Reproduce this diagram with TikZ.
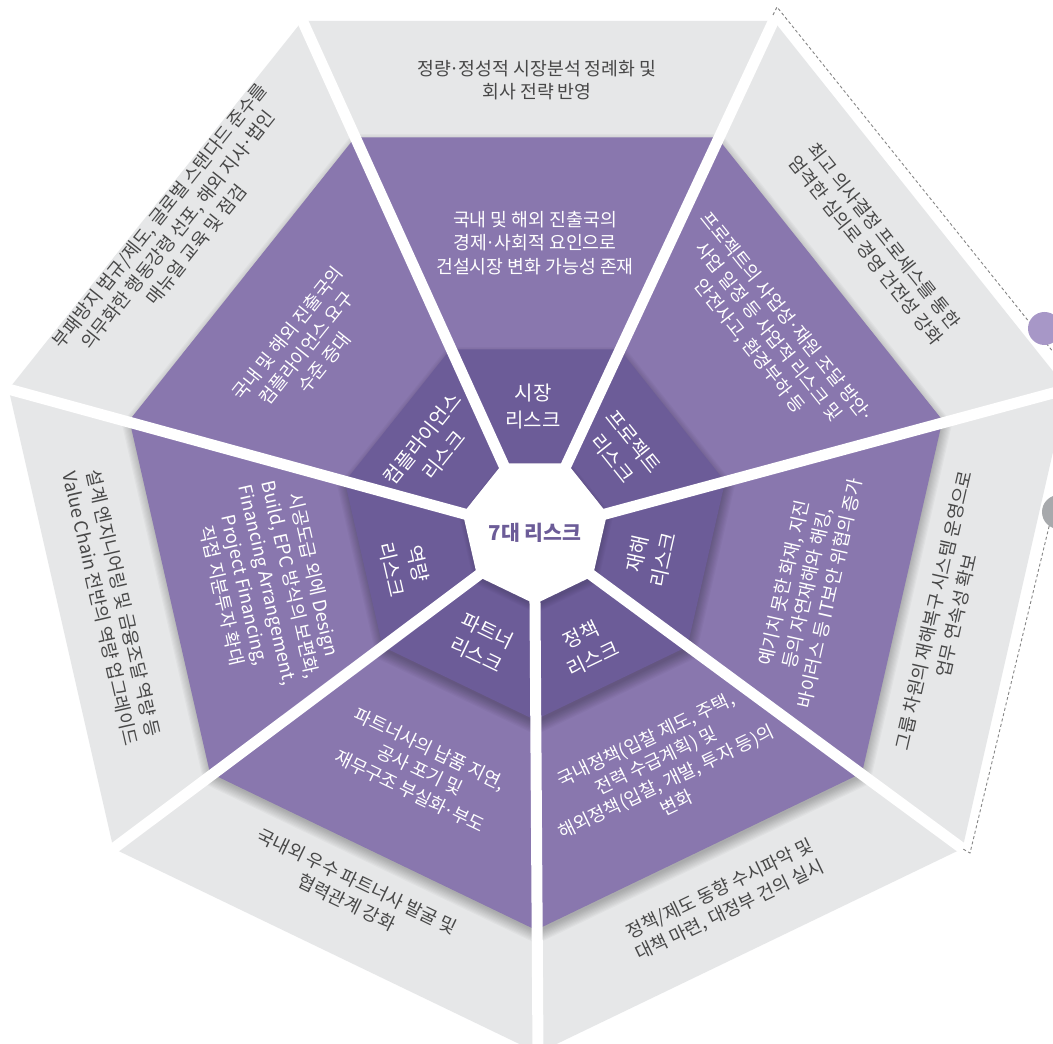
\documentclass[tikz,border=0pt]{standalone}
\usepackage{fontspec}
\setmainfont{Noto Sans CJK KR}
\usetikzlibrary{calc}
\definecolor{grayfill}{HTML}{E6E7E8}
\definecolor{midpurple}{HTML}{8977AE}
\definecolor{darkpurple}{HTML}{6C5C98}
\definecolor{graytext}{HTML}{484848}
\definecolor{lightpurple}{HTML}{A797C7}
\definecolor{circlegray}{HTML}{A7A9AC}
\definecolor{dashgray}{HTML}{858585}
\newcommand\heptpath[3]{([shift={(#1,#2)}]{64.2857}:{#3}) \foreach \k in {0,...,5}{ -- ++({180+51.4286*\k}:{0.867767*(#3)}) } -- cycle}
\newcommand\md{\kern-0.07em·\kern-0.07em}
\tikzset{
  outertext/.style={text=graytext, align=center, font=\fontsize{18.3}{23.5}\selectfont, inner sep=0pt},
  midtext/.style={text=white, align=center, font=\fontsize{18.3}{23.5}\selectfont, inner sep=0pt},
  risktext/.style={text=white, align=center, font=\fontsize{20}{27}\selectfont, inner sep=0pt},
  centertext/.style={text=darkpurple, font=\fontsize{20.5}{24}\selectfont\bfseries, inner sep=0pt},
  spoke/.style={draw=white, line width=11pt},
  dashline/.style={draw=dashgray, line width=0.9pt, dash pattern=on 3pt off 2.5pt},
  dot/.style={circle, inner sep=0pt, draw=none},
}
\begin{document}
\begin{tikzpicture}[x=1pt,y=1pt]
\useasboundingbox (0,0) rectangle (1053,1044);
\fill[white] (0,0) rectangle (1053,1044);
% outer gray heptagon
\fill[grayfill] \heptpath{538}{534}{543};
% shadow under middle ring
\foreach \i in {1,...,10}{\fill[black,opacity=0.028] \heptpath{537}{526}{413+1.3*\i};}
\fill[midpurple] \heptpath{536}{531}{417};
% shadow under inner ring
\foreach \i in {1,...,10}{\fill[black,opacity=0.026] \heptpath{536}{513}{191+1.3*\i};}
\fill[darkpurple] \heptpath{535}{519}{195};
% shadow under centre
\foreach \i in {1,...,6}{\fill[black,opacity=0.025] \heptpath{536}{510}{72+1.2*\i};}
% spokes
\foreach \k in {0,...,6}{
  \coordinate (o\k) at ([shift={(538,534)}]{64.2857+51.4286*\k}:543);
  \coordinate (w\k) at ([shift={(535,514)}]{64.2857+51.4286*\k}:74);
}
\foreach \k in {0,...,6}{
  \draw[spoke] ($(o\k)!1.05!(w\k)$) -- ($(w\k)!1.08!(o\k)$);
}
\fill[white] \heptpath{535}{514}{74};
% centre
\node[centertext] (c0) at (535,511) {7대 리스크};
% risk names
\node[risktext] (r1) at (533,637) {시장\\리스크};
\node[risktext, rotate=-51.43] (r2) at (623,594) {프로젝트\\리스크};
\node[risktext, rotate=77.14] (r3) at (650,487) {재해\\리스크};
\node[risktext, rotate=25.71] (r4) at (587,397) {정책\\리스크};
\node[risktext, rotate=-25.71] (r5) at (482,401) {파트너\\리스크};
\node[risktext, rotate=-77.14] (r6) at (405,477) {역량\\리스크};
\node[risktext, rotate=51.43] (r7) at (433,597) {컴플라이언스\\리스크};
% middle ring
\node[midtext] (m1) at (535,801) {국내 및 해외 진출국의\\경제\md 사회적 요인으로\\건설시장 변화 가능성 존재};
\node[midtext, rotate=-51.43] (m2) at (768,712) {프로젝트의 사업성\md 재원 조달 방안\md\\사업 일정 등 사업적 리스크 및\\안전사고, 환경부하 등};
\node[midtext, rotate=77.14] (m3) at (807,456) {예기치 못한 화재, 지진\\등의 자연재해와 해킹,\\바이러스 등 IT보안 위협의 증가};
\node[midtext, rotate=25.71] (m4) at (661,273) {국내정책(입찰 제도, 주택,\\전력 수급계획) 및\\해외정책(입찰, 개발, 투자 등)의\\변화};
\node[midtext, rotate=-25.71] (m5) at (420,274) {파트너사의 납품 지연,\\공사 포기 및\\재무구조 부실화\md 부도};
\node[midtext, rotate=-77.14] (m6) at (268,459) {시공도급 외에 Design\\Build, EPC 방식의 보편화,\\Financing Arrangement,\\Project Financing,\\직접 지분투자 확대};
\node[midtext, rotate=51.43] (m7) at (306,696) {국내 및 해외 진출국의\\컴플라이언스 요구\\수준 증대};
% outer ring
\node[outertext] (g1) at (537,964) {정량\md 정성적 시장분석 정례화 및\\회사 전략 반영};
\node[outertext, rotate=-51.43] (g2) at (875,801) {최고 의사결정 프로세스를 통한\\엄격한 심의로 경영 건전성 강화};
\node[outertext, rotate=77.14] (g3) at (945,431) {그룹 차원의 재해복구 시스템 운영으로\\업무 연속성 확보};
\node[outertext, rotate=25.71] (g4) at (725,144) {정책/제도 동향 수시파악 및\\대책 마련, 대정부 건의 실시};
\node[outertext, rotate=-25.71] (g5) at (352,152) {국내외 우수 파트너사 발굴 및\\협력관계 강화};
\node[outertext, rotate=-77.14] (g6) at (112,438) {설계 엔지니어링 및 금융조달 역량 등\\Value Chain 전반의 역량 업그레이드};
\node[outertext, rotate=51.43] (g7) at (178,814) {부패방지 법규/제도, 글로벌 스탠다드 준수를\\의무화한 행동강령 선포, 해외 지사\md 법인\\매뉴얼 교육 및 점검};
% decorations at the right edge
\coordinate (d0) at (773,1029);
\coordinate (d1) at (777,1037);
\coordinate (d2) at (1062,681);
\draw[dashline] (d0) -- (d1) -- (d2);
\node[dot, fill=lightpurple, minimum size=33pt] (p1) at (1044.5,715.5) {};
\node[dot, fill=circlegray, minimum size=34pt] (p2) at (1059,532) {};
\coordinate (d3) at (970,191);
\coordinate (d4) at (963,195);
\draw[dashline] (p2.235) -- (d3) -- (d4);
\end{tikzpicture}
\end{document}
